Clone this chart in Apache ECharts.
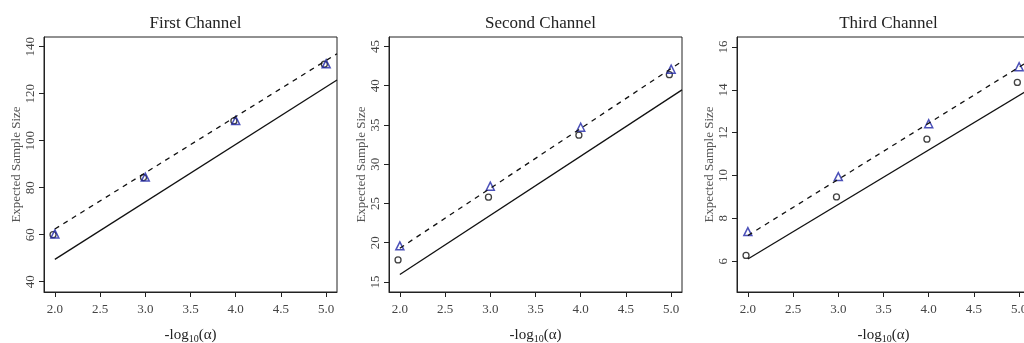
<!DOCTYPE html>
<html>
<head>
<meta charset="utf-8">
<script src="https://cdn.jsdelivr.net/npm/echarts@6/dist/echarts.min.js"></script>
<style>
  html, body { margin: 0; padding: 0; background: #fff; }
  #chart { width: 1024px; height: 343px; }
</style>
</head>
<body>
<div id="chart"></div>
<script>
// data
const titles = ['First Channel', 'Second Channel', 'Third Channel'];
const xTicks = [2, 2.5, 3, 3.5, 4, 4.5, 5];
const triX = [2, 3, 4, 5];
const circX = [1.98, 2.98, 3.98, 4.98];
const lineX = [2, 5.12];

const firstCircles = [60.0, 84.3, 108.4, 132.5];
const firstTriangles = [60.3, 84.5, 108.6, 132.7];
const firstSolid = [49.5, 125.8];
const firstDashed = [62.4, 137.0];
const firstYTicks = [40, 60, 80, 100, 120, 140];

const secondCircles = [17.8, 25.8, 33.7, 41.4];
const secondTriangles = [19.6, 27.2, 34.7, 42.1];
const secondSolid = [15.94, 39.47];
const secondDashed = [19.3, 43.1];
const secondYTicks = [15, 20, 25, 30, 35, 40, 45];

const thirdCircles = [6.27, 9.0, 11.7, 14.35];
const thirdTriangles = [7.38, 9.95, 12.42, 15.08];
const thirdSolid = [6.1, 14.05];
const thirdDashed = [7.2, 15.38];
const thirdYTicks = [6, 8, 10, 12, 14, 16];

const panels = [
  { circles: firstCircles, tris: firstTriangles, solid: firstSolid, dashed: firstDashed, yTicks: firstYTicks, yMin: 35.6, yMax: 144.1, left: 44 },
  { circles: secondCircles, tris: secondTriangles, solid: secondSolid, dashed: secondDashed, yTicks: secondYTicks, yMin: 13.72, yMax: 46.2, left: 389 },
  { circles: thirdCircles, tris: thirdTriangles, solid: thirdSolid, dashed: thirdDashed, yTicks: thirdYTicks, yMin: 4.56, yMax: 16.47, left: 737 }
];

const FONT = '"Liberation Serif", "DejaVu Serif", serif';
const W = 293, TOP = 37, H = 255;
const zip = (xs, ys) => xs.map((x, i) => [x, ys[i]]);

const chart = echarts.init(document.getElementById('chart'), null, { renderer: 'canvas' });

const option = {
  animation: false,
  backgroundColor: '#fff',
  title: panels.map((p, i) => ({
    text: titles[i],
    left: p.left + W / 2,
    top: 10,
    textAlign: 'center',
    textStyle: { fontFamily: FONT, fontSize: 17, fontWeight: 'normal', color: '#222' }
  })),
  grid: panels.map(p => ({
    left: p.left, top: TOP, width: W, height: H,
    outerBoundsMode: 'none', containLabel: false,
    show: true, borderColor: '#222', borderWidth: 1, backgroundColor: 'transparent'
  })),
  xAxis: panels.map((p, i) => ({
    type: 'value', gridIndex: i, min: 1.88, max: 5.12,
    name: '{a|-log}{s|10}{a|(α)}',
    nameLocation: 'middle', nameGap: 34,
    nameTextStyle: {
      rich: {
        a: { fontFamily: FONT, fontSize: 15, color: '#222' },
        s: { fontFamily: FONT, fontSize: 10, color: '#222', verticalAlign: 'bottom', padding: [8, 0, 0, 0] }
      }
    },
    axisLine: { show: true, onZero: false, lineStyle: { color: '#222' } },
    axisTick: { show: true, inside: false, length: 5, customValues: xTicks, lineStyle: { color: '#222' } },
    axisLabel: {
      customValues: xTicks, margin: 11, fontFamily: FONT, fontSize: 13, color: '#444',
      formatter: v => v.toFixed(1)
    },
    splitLine: { show: false }
  })),
  yAxis: panels.map((p, i) => ({
    type: 'value', gridIndex: i, min: p.yMin, max: p.yMax,
    name: 'Expected Sample Size',
    nameLocation: 'middle', nameGap: 19,
    nameTextStyle: { fontFamily: FONT, fontSize: 13, color: '#555' },
    axisLine: { show: true, onZero: false, lineStyle: { color: '#222' } },
    axisTick: { show: true, inside: false, length: 5, customValues: p.yTicks, lineStyle: { color: '#222' } },
    axisLabel: {
      customValues: p.yTicks, rotate: 90, margin: 7, fontFamily: FONT, fontSize: 13, color: '#444'
    },
    splitLine: { show: false }
  })),
  series: panels.flatMap((p, i) => [
    {
      type: 'line', xAxisIndex: i, yAxisIndex: i, data: zip(lineX, p.solid),
      showSymbol: false, lineStyle: { color: '#111', width: 1.3 }, clip: true
    },
    {
      type: 'line', xAxisIndex: i, yAxisIndex: i, data: zip(lineX, p.dashed),
      showSymbol: false, lineStyle: { color: '#111', width: 1.3, type: [5, 5] }, clip: true
    },
    {
      type: 'scatter', xAxisIndex: i, yAxisIndex: i, data: zip(circX, p.circles),
      symbol: 'circle', symbolSize: 6,
      itemStyle: { color: 'rgba(0,0,0,0)', borderColor: '#111', borderWidth: 1.3 }
    },
    {
      type: 'scatter', xAxisIndex: i, yAxisIndex: i, data: zip(triX, p.tris),
      symbol: 'triangle', symbolSize: 8,
      itemStyle: { color: 'rgba(0,0,0,0)', borderColor: '#1f26a8', borderWidth: 1.5 }
    }
  ])
};

chart.setOption(option);
</script>
</body>
</html>
